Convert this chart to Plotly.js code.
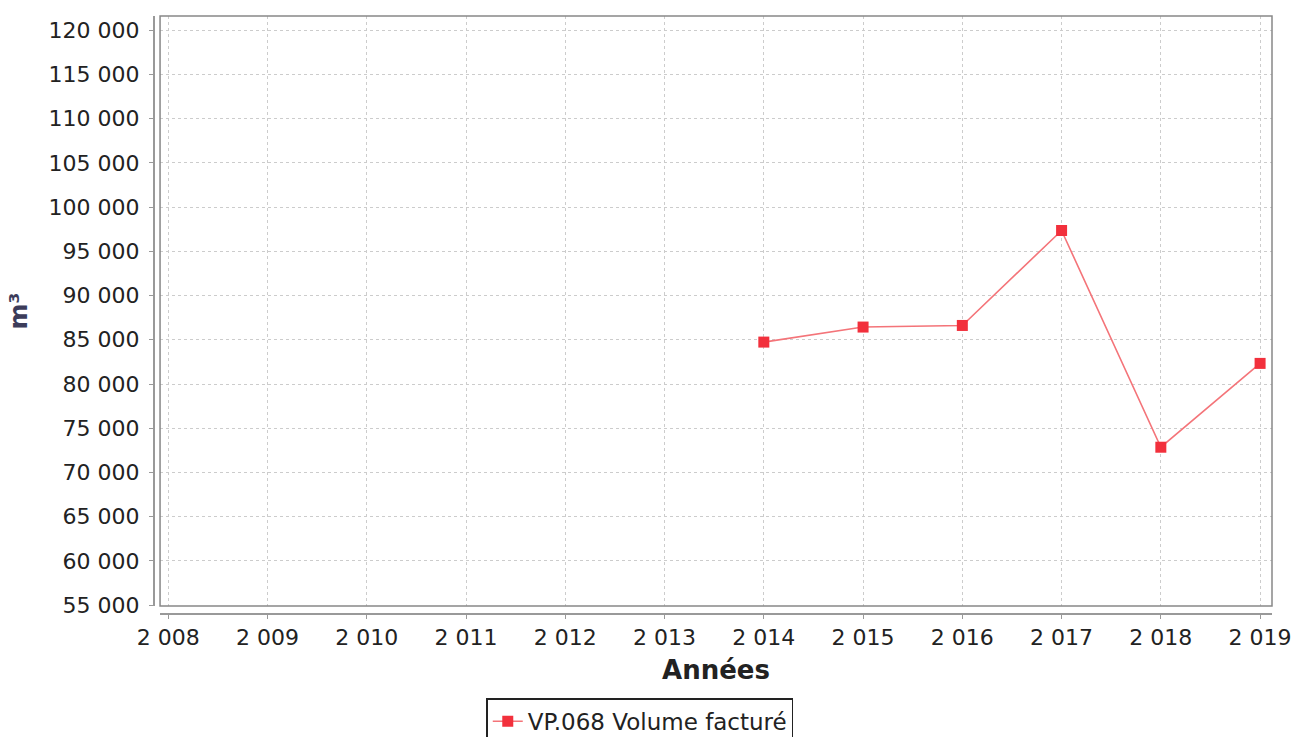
<!DOCTYPE html>
<html>
<head>
<meta charset="utf-8">
<script src="https://cdn.plot.ly/plotly-3.0.1.min.js"></script>
<style>html,body{margin:0;padding:0;background:#fff;}#chart{width:1298px;height:737px;}</style>
</head>
<body>
<div id="chart"></div>
<script>
const years = [2014, 2015, 2016, 2017, 2018, 2019];
const volumeFacture = [84740, 86440, 86620, 97360, 72850, 82330];
const seriesName = "VP.068 Volume facturé";
const xTitle = "Années";
const yTitle = "m³";
const yTicks = [55000, 60000, 65000, 70000, 75000, 80000, 85000, 90000, 95000, 100000, 105000, 110000, 115000, 120000];
const xTicks = [2008, 2009, 2010, 2011, 2012, 2013, 2014, 2015, 2016, 2017, 2018, 2019];

const trace = {
  x: years, y: volumeFacture, name: seriesName, type: 'scatter', mode: 'lines+markers',
  line: {color: '#f47479', width: 1.6},
  marker: {symbol: 'square', size: 11, color: '#f2303c', line: {width: 0}}
};

const tickFont = {family: 'DejaVu Sans, sans-serif', size: 22, color: '#222'};
const layout = {
  width: 1298, height: 737,
  margin: {l: 153, r: 26, t: 16, b: 124, autoexpand: false},
  paper_bgcolor: '#fff', plot_bgcolor: '#fff',
  separators: ', ',
  showlegend: true,
  legend: {x: 0.435, xanchor: 'center', y: -0.143, yanchor: 'top', orientation: 'h',
    bordercolor: '#222', borderwidth: 1.5, bgcolor: '#fff', itemwidth: 30,
    font: {family: 'DejaVu Sans, sans-serif', size: 23, color: '#222'}},
  xaxis: {
    domain: [0.0063, 1], anchor: 'free', position: 0,
    range: [2007.917, 2019.12], tickvals: xTicks, tickformat: ',d',
    showgrid: true, gridcolor: '#cccccc', griddash: 'dot', gridwidth: 1,
    zeroline: false, showline: true, linecolor: '#999', linewidth: 1.5,
    ticks: 'outside', ticklen: 4, tickcolor: '#999', tickfont: tickFont,
    title: {text: xTitle, font: {family: 'DejaVu Sans, sans-serif', size: 26, color: '#222', weight: 'bold'}, standoff: 12}
  },
  yaxis: {
    domain: [0.0117, 1], anchor: 'free', position: 0,
    range: [54890, 121620], tickvals: yTicks, tickformat: ',d',
    showgrid: true, gridcolor: '#cccccc', griddash: 'dot', gridwidth: 1,
    zeroline: false, showline: true, linecolor: '#999', linewidth: 1.5,
    ticks: 'outside', ticklen: 4, tickcolor: '#999', tickfont: tickFont, ticklabelstandoff: 5,
    title: {text: yTitle, font: {family: 'DejaVu Sans, sans-serif', size: 25, color: '#3c3c5a', weight: 'bold'}, standoff: 12}
  },
  shapes: [{type: 'rect', xref: 'x domain', yref: 'y domain', x0: 0, x1: 1, y0: 0, y1: 1,
    line: {color: '#888', width: 1.5}, layer: 'above'}]
};

Plotly.newPlot('chart', [trace], layout, {displayModeBar: false, staticPlot: true});
</script>
</body>
</html>
